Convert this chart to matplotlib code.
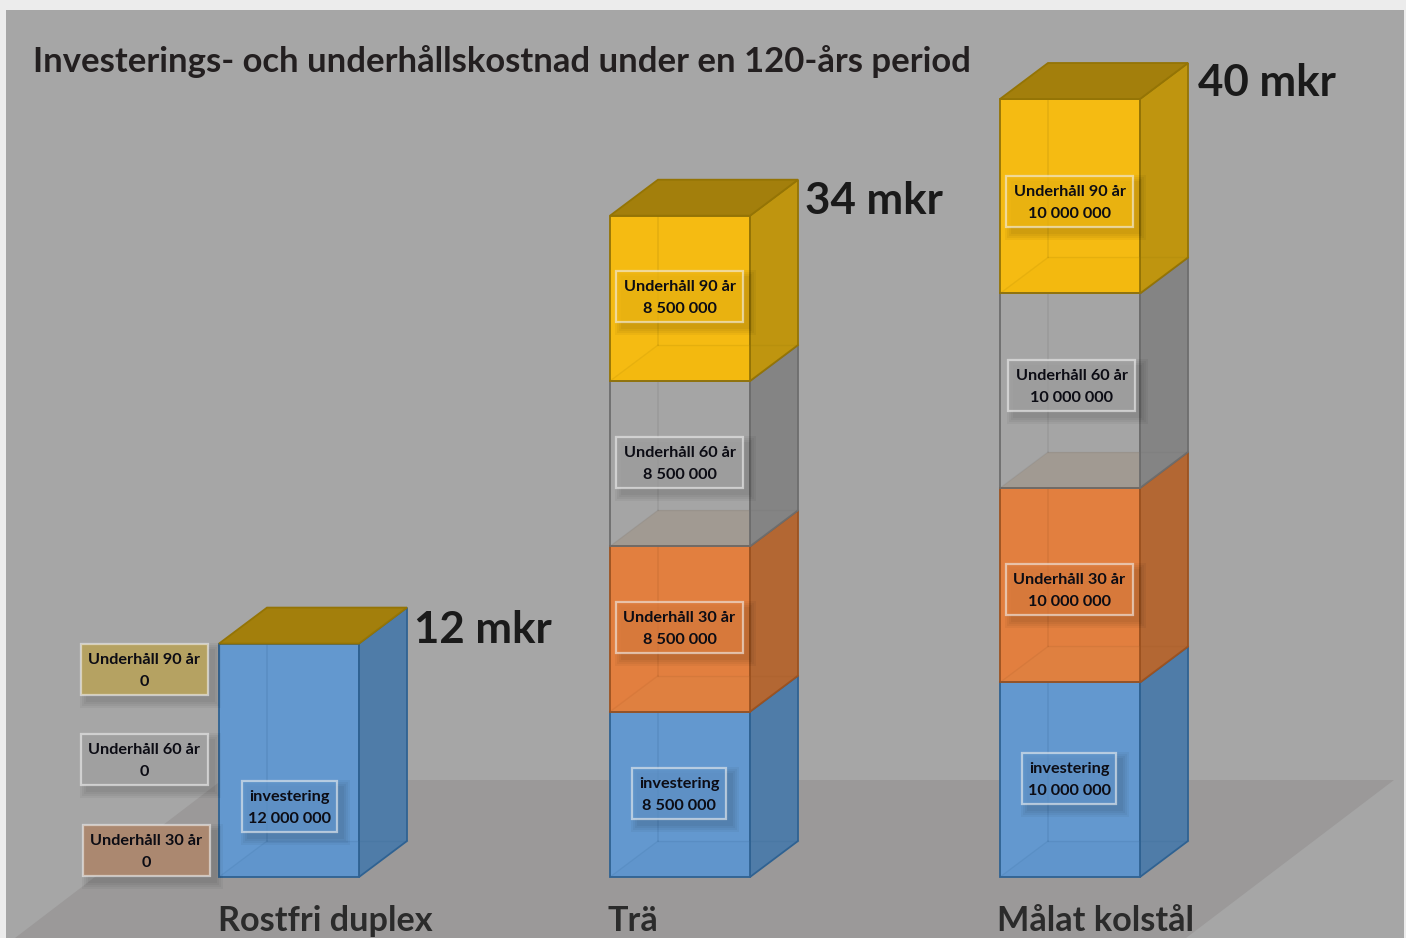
import matplotlib
matplotlib.use("Agg")
import matplotlib.pyplot as plt
from matplotlib.patches import Polygon, Rectangle

categories = ["Rostfri duplex", "Trä", "Målat kolstål"]
investering = [12000000, 8500000, 10000000]
underhall_30 = [0, 8500000, 10000000]
underhall_60 = [0, 8500000, 10000000]
underhall_90 = [0, 8500000, 10000000]
totals = ["12 mkr", "34 mkr", "40 mkr"]
title = "Investerings- och underhållskostnad under en 120-års period"
segment_names = ["investering", "Underhåll 30 år", "Underhåll 60 år", "Underhåll 90 år"]

plt.rcParams['font.family'] = ['Lato', 'DejaVu Sans']
plt.rcParams['font.weight'] = 'bold'

W, H = 1406, 938
BASE = 877
PX_PER_UNIT = 19.45e-6
BAR_W = 140
DX, DY = 48, 36

bar_left = [219, 610, 1000]

# front, side, edge, floor tint
colors = [("#6398cf", "#4f7ca8", "#2f6292", "#6095cc"),
          ("#e27f3f", "#b36733", "#9c5220", "#df8040"),
          ("#a5a5a5", "#848484", "#6d6d6d", "#a19a92"),
          ("#f5bb12", "#bf950f", "#947405", "#f3b90f")]
top_color = "#a37f0c"

# label boxes, one row per bar: left, top, right, bottom
label_boxes = [
    [(242, 781, 337, 832), (83, 825, 210, 876), (81, 734, 208, 785), (81, 644, 208, 695)],
    [(632, 768, 726, 819), (616, 602, 743, 653), (616, 437, 743, 488), (616, 271, 743, 322)],
    [(1022, 753, 1116, 804), (1006, 564, 1133, 615), (1008, 360, 1135, 411), (1006, 176, 1133, 227)],
]
zero_fill = ["#6398cf", "#ab8870", "#a0a0a0", "#b5a262"]
total_pos = [(414, 630), (805, 201), (1198, 83)]
cat_pos = [218, 607, 997]


def fmt(v):
    return f"{v:,}".replace(",", " ")


def y_of(v):
    return BASE - v * PX_PER_UNIT


fig = plt.figure(figsize=(W / 100, H / 100), dpi=100, facecolor="#ececec")
ax = fig.add_axes([0, 0, 1, 1])
ax.set_xlim(0, W)
ax.set_ylim(H, 0)
ax.axis("off")

# background and floor
ax.add_patch(Rectangle((6, 10), 1398, 928, fc="#a6a6a6", ec="none", zorder=0))
ax.add_patch(Polygon([(222, 780), (1394, 780), (1186, 938), (15, 938)], fc="#9b9999", ec="none", zorder=1))
ax.text(33, 62, title, fontsize=24.9, color="#231f20", va="center", ha="left", zorder=10)

series = [investering, underhall_30, underhall_60, underhall_90]
for b, x0 in enumerate(bar_left):
    x1 = x0 + BAR_W
    cum = 0
    z = 3
    for s, values in enumerate(series):
        v = values[b]
        if v == 0:
            continue
        front, side, edge, floor = colors[s]
        yb = y_of(cum)
        yt = y_of(cum + v)
        ax.add_patch(Rectangle((x0, yt), BAR_W, yb - yt, fc=front, ec="none", zorder=z))
        ax.add_patch(Polygon([(x1, yb), (x1 + DX, yb - DY), (x1 + DX, yt - DY), (x1, yt)],
                             fc=side, ec=edge, lw=1.3, zorder=z))
        # floor and back edges seen through the box
        ax.add_patch(Polygon([(x0, yb), (x1, yb), (x1, yb - DY), (x0 + DX, yb - DY)],
                             fc=floor, ec="none", zorder=z + 0.1))
        ax.plot([x0 + DX, x0 + DX], [yb - DY, yt], color=edge, alpha=0.18, lw=1.2, zorder=z + 0.2)
        ax.plot([x0, x0 + DX], [yb, yb - DY], color=edge, alpha=0.12, lw=1, zorder=z + 0.2)
        ax.plot([x0 + DX, x1 + DX], [yb - DY, yb - DY], color=edge, alpha=0.14, lw=1, zorder=z + 0.2)
        ax.add_patch(Rectangle((x0, yt), BAR_W, yb - yt, fc="none", ec=edge, lw=1.3, zorder=z + 0.3))
        cum += v
    # lid of the stack
    yt = y_of(cum)
    ax.add_patch(Polygon([(x0, yt), (x1, yt), (x1 + DX, yt - DY), (x0 + DX, yt - DY)],
                         fc=top_color, ec=colors[3][2], lw=1.3, zorder=z + 0.4))
    ax.text(total_pos[b][0], total_pos[b][1], totals[b], fontsize=31.6, color="#1a1a1a",
            va="center", ha="left", zorder=10)
    ax.text(cat_pos[b], 921, categories[b], fontsize=24.7, color="#2b2b2b", va="center", ha="left", zorder=10)

    # labels
    for s, values in enumerate(series):
        left, top, right, bottom = label_boxes[b][s]
        v = values[b]
        for grow in [7, 5, 3, 1]:
            ax.add_patch(Rectangle((left + 6 - grow, top + 6 - grow), right - left + 2 * grow,
                                   bottom - top + 2 * grow, fc="black", ec="none", alpha=0.04, zorder=5))
        fill = colors[s][0] if v != 0 else zero_fill[s]
        ax.add_patch(Rectangle((left, top), right - left, bottom - top, fc=fill, alpha=0.7 if v else 1,
                               ec="none", zorder=6))
        ax.add_patch(Rectangle((left, top), right - left, bottom - top, fc="none",
                               ec="#f2f2f2", alpha=0.6, lw=1.6, zorder=6.1))
        cx = (left + right) / 2
        ax.text(cx, top + 16, segment_names[s], fontsize=11.7, color="#0c0c14", ha="center", va="center", zorder=7)
        ax.text(cx, top + 38, fmt(v), fontsize=11.7, color="#0c0c14", ha="center", va="center", zorder=7)

fig.savefig("out.png", dpi=100, facecolor=fig.get_facecolor())
